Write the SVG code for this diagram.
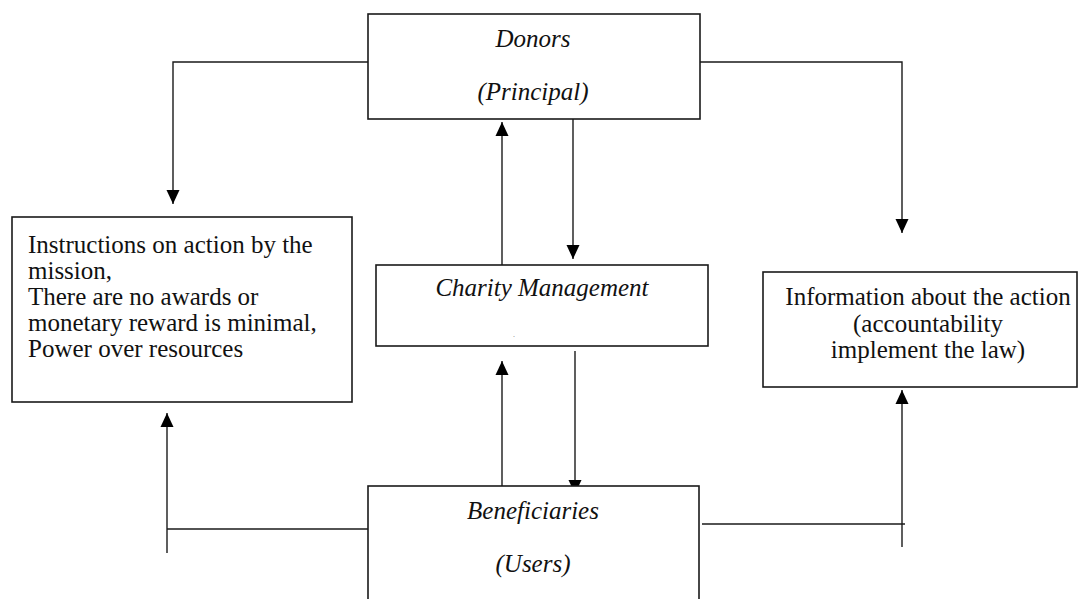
<svg xmlns="http://www.w3.org/2000/svg" width="1081" height="599" viewBox="0 0 1081 599">
<defs>
<marker id="ah" viewBox="0 0 14 14" refX="14" refY="7" markerWidth="14" markerHeight="14" markerUnits="userSpaceOnUse" orient="auto">
<path d="M0,0.5 L14,7 L0,13.5 z" fill="#000"/>
</marker>
<style>
.box{fill:#fff;stroke:#1a1a1a;stroke-width:1.6}
.ln{fill:none;stroke:#1a1a1a;stroke-width:1.4}
.lna{fill:none;stroke:#1a1a1a;stroke-width:1.4;marker-end:url(#ah)}
.it{font-style:italic;font-size:25px;fill:#111;text-anchor:middle}
.rg{font-size:25px;fill:#111}
</style>
</defs>
<rect width="1081" height="599" fill="#fff"/>
<g id="connectors">
<polyline class="lna" points="368,62 173,62 173,204"/>
<polyline class="lna" points="700,62 902,62 902,233"/>
<line class="lna" x1="502" y1="265" x2="502" y2="122"/>
<line class="lna" x1="573" y1="116" x2="573" y2="259"/>
<line class="lna" x1="502" y1="505" x2="502" y2="361"/>
<line class="lna" x1="575" y1="351" x2="575" y2="494"/>
<polyline class="ln" points="368,529 167,529"/>
<line class="lna" x1="167" y1="553" x2="167" y2="413"/>
<polyline class="ln" points="702,524 905,524"/>
<line class="lna" x1="902" y1="547" x2="902" y2="390"/>
</g>
<g id="donors" font-family="Liberation Serif, Times New Roman, serif">
<rect class="box" x="368" y="14" width="332" height="105"/>
<text class="it" x="533" y="47">Donors</text>
<text class="it" x="533" y="100">(Principal)</text>
</g>
<g id="instructions" font-family="Liberation Serif, Times New Roman, serif">
<rect class="box" x="12" y="217" width="340" height="185"/>
<text class="rg" x="28" y="253">Instructions on action by the</text>
<text class="rg" x="28" y="279">mission,</text>
<text class="rg" x="28" y="305">There are no awards or</text>
<text class="rg" x="28" y="331">monetary reward is minimal,</text>
<text class="rg" x="28" y="357">Power over resources</text>
</g>
<g id="charity" font-family="Liberation Serif, Times New Roman, serif">
<rect class="box" x="376" y="265" width="332" height="81"/>
<text class="it" x="542" y="296">Charity Management</text>
<text x="513" y="337" font-size="8" fill="#777">.</text>
</g>
<g id="information" font-family="Liberation Serif, Times New Roman, serif">
<rect class="box" x="763" y="272" width="314" height="115"/>
<text class="rg" x="928" y="305" text-anchor="middle">Information about the action</text>
<text class="rg" x="928" y="332" text-anchor="middle">(accountability</text>
<text class="rg" x="928" y="358" text-anchor="middle">implement the law)</text>
</g>
<g id="beneficiaries" font-family="Liberation Serif, Times New Roman, serif">
<rect class="box" x="368" y="486" width="331" height="130"/>
<text class="it" x="533" y="519">Beneficiaries</text>
<text class="it" x="533" y="572">(Users)</text>
</g>
</svg>
